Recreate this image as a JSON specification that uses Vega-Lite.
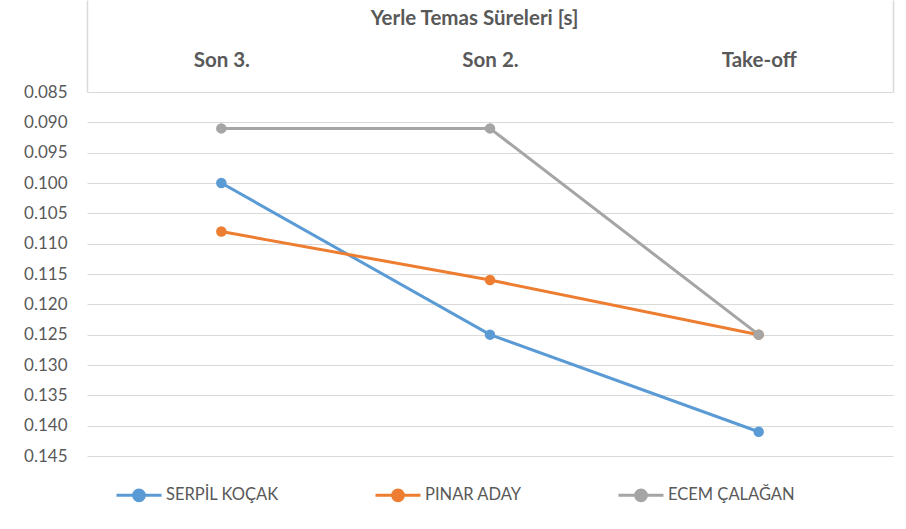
{
  "$schema": "https://vega.github.io/schema/vega-lite/v6.json",
  "autosize": "none",
  "width": 806,
  "height": 364,
  "padding": {"left": 87, "top": 92, "right": 13, "bottom": 73},
  "background": "white",
  "config": {
    "font": "Lato",
    "view": {"stroke": null}
  },
  "data": {
    "values": [
      {"name": "SERPİL KOÇAK", "phase": "Son 3.", "value": 0.100},
      {"name": "SERPİL KOÇAK", "phase": "Son 2.", "value": 0.125},
      {"name": "SERPİL KOÇAK", "phase": "Take-off", "value": 0.141},
      {"name": "PINAR ADAY", "phase": "Son 3.", "value": 0.108},
      {"name": "PINAR ADAY", "phase": "Son 2.", "value": 0.116},
      {"name": "PINAR ADAY", "phase": "Take-off", "value": 0.125},
      {"name": "ECEM ÇALAĞAN", "phase": "Son 3.", "value": 0.091},
      {"name": "ECEM ÇALAĞAN", "phase": "Son 2.", "value": 0.091},
      {"name": "ECEM ÇALAĞAN", "phase": "Take-off", "value": 0.125}
    ]
  },
  "encoding": {
    "x": {
      "field": "phase",
      "type": "nominal",
      "sort": ["Son 3.", "Son 2.", "Take-off"],
      "scale": {"type": "band", "paddingInner": 0, "paddingOuter": 0},
      "axis": {
        "orient": "top",
        "title": "Yerle Temas Süreleri  [s]",
        "titleFontSize": 20.5,
        "titleFontWeight": "bold",
        "titleColor": "#595959",
        "titleX": 387,
        "titleY": -68,
        "titleAlign": "center",
        "titleBaseline": "alphabetic",
        "labelFontSize": 20.5,
        "labelFontWeight": "bold",
        "labelColor": "#595959",
        "labelAngle": 0,
        "labelPadding": -70,
        "tickBand": "extent",
        "tickSize": 92,
        "tickWidth": 1.5,
        "tickColor": {"condition": {"test": "datum.value === 'Son 3.' || datum.value === 'Son 2.'", "value": "transparent"}, "value": "#D9D9D9"},
        "domain": false,
        "grid": false
      }
    },
    "y": {
      "field": "value",
      "type": "quantitative",
      "scale": {"domain": [0.085, 0.145], "nice": false, "zero": false, "reverse": true},
      "axis": {
        "title": null,
        "values": [0.085, 0.09, 0.095, 0.1, 0.105, 0.11, 0.115, 0.12, 0.125, 0.13, 0.135, 0.14, 0.145],
        "format": ".3f",
        "labelFontSize": 17,
        "labelColor": "#595959",
        "labelPadding": 20,
        "ticks": false,
        "domain": false,
        "grid": true,
        "gridColor": "#D9D9D9",
        "gridWidth": 1
      }
    },
    "color": {
      "field": "name",
      "type": "nominal",
      "sort": ["SERPİL KOÇAK", "PINAR ADAY", "ECEM ÇALAĞAN"],
      "scale": {"domain": ["SERPİL KOÇAK", "PINAR ADAY", "ECEM ÇALAĞAN"], "range": ["#5B9BD5", "#ED7D31", "#A5A5A5"]},
      "legend": {
        "title": null,
        "orient": "none",
        "legendX": 28,
        "legendY": 379,
        "direction": "horizontal",
        "columns": 3,
        "columnPadding": 90,
        "padding": 0,
        "labelFontSize": 16.5,
        "labelColor": "#595959",
        "labelOffset": 3,
        "symbolType": "M -1 0 L 1 0 M -0.24 0 A 0.24 0.24 0 1 1 0.24 0 A 0.24 0.24 0 1 1 -0.24 0",
        "symbolSize": 2025,
        "symbolStrokeWidth": 3,
        "encode": {
          "symbols": {
            "update": {
              "fill": {"scale": "color", "field": "value"},
              "stroke": {"scale": "color", "field": "value"},
              "opacity": {"value": 1}
            }
          }
        }
      }
    }
  },
  "layer": [
    {"mark": {"type": "line", "strokeWidth": 3}},
    {"mark": {"type": "point", "filled": true, "size": 110, "opacity": 1}}
  ]
}
